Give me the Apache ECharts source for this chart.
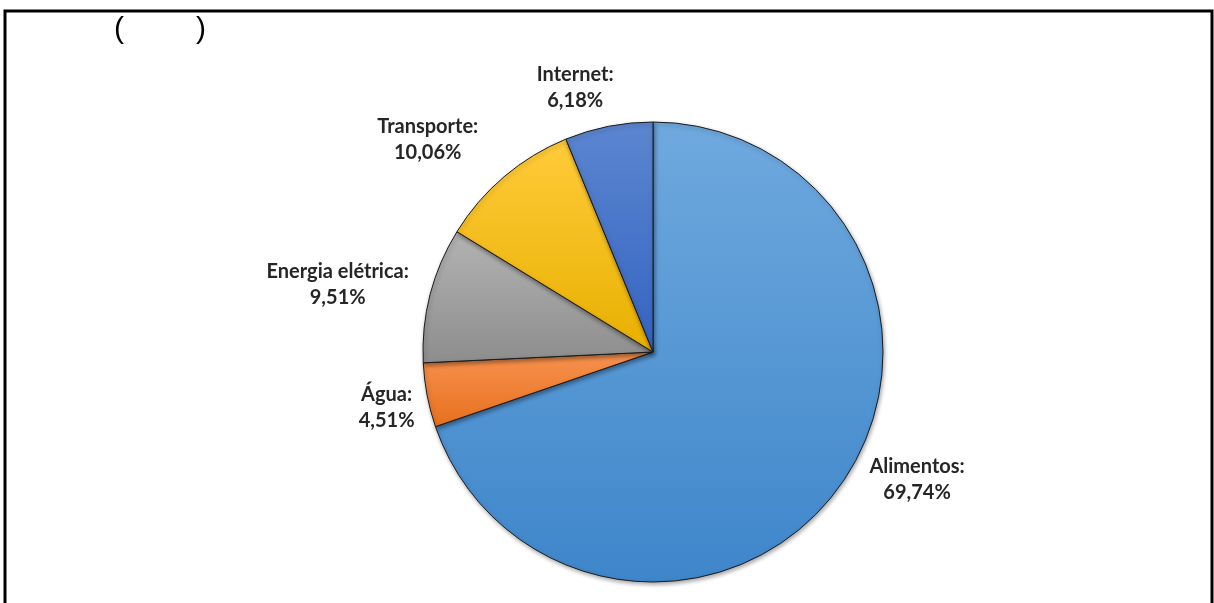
<html>
<head>
    <meta charset="utf-8">
    <title>ECharts</title>
    <script src="https://cdn.jsdelivr.net/npm/echarts@6/dist/echarts.min.js"></script>
    <style>
        html, body { margin: 0; padding: 0; background: #fff; }
    </style>
</head>
<body>
<div id="main" style="width: 1214px;height:603px;"></div>
<script type="text/javascript">
    // categories and values (percent), clockwise from 12 o'clock
    var categorias = ['Alimentos', 'Água', 'Energia elétrica', 'Transporte', 'Internet'];
    var valores = [69.74, 4.51, 9.51, 10.06, 6.18];
    var rotulos = ['69,74%', '4,51%', '9,51%', '10,06%', '6,18%'];

    // top / bottom colour of each slice gradient
    var coresTopo = ['#6fa9de', '#f7924f', '#b3b3b3', '#ffcb3a', '#5c86d0'];
    var coresBase = ['#3e86ca', '#e8701f', '#8d8d8d', '#e8b000', '#3464c2'];

    // small nudges so the labels sit where the original (Excel) put them
    var ajusteX = [20, 7, -4, -32, -24];
    var ajusteY = [-47, 3, 13, 15, 9];

    var myChart = echarts.init(document.getElementById('main'));

    var dados = [];
    for (var i = 0; i < categorias.length; i++) {
        dados.push({
            name: categorias[i],
            value: valores[i],
            itemStyle: {
                color: new echarts.graphic.LinearGradient(0, 0, 0, 1, [
                    {offset: 0, color: coresTopo[i]},
                    {offset: 1, color: coresBase[i]}
                ])
            }
        });
    }

    var cx = 653, cy = 352, raio = 230;

    var option = {
        animation: false,
        graphic: [
            {
                type: 'rect',
                shape: {x: 5, y: 11, width: 1207, height: 640},
                style: {fill: 'none', stroke: '#000', lineWidth: 3}
            },
            {
                type: 'text', left: 114, top: 15,
                style: {text: '(', font: '30px "Liberation Sans"', fill: '#000'}
            },
            {
                type: 'text', left: 196, top: 15,
                style: {text: ')', font: '30px "Liberation Sans"', fill: '#000'}
            }
        ],
        series: [{
            type: 'pie',
            center: [cx, cy],
            radius: raio,
            startAngle: 90,
            clockwise: true,
            avoidLabelOverlap: false,
            itemStyle: {
                borderColor: '#1a1a1a',
                borderWidth: 1,
                shadowColor: 'rgba(0,0,0,0.35)',
                shadowBlur: 4,
                shadowOffsetX: 1,
                shadowOffsetY: 2
            },
            label: {
                position: 'outside',
                formatter: function (p) {
                    return p.name + ':\n' + rotulos[p.dataIndex];
                },
                fontFamily: 'Lato',
                fontWeight: 'bold',
                fontSize: 20,
                lineHeight: 26,
                color: '#262626',
                align: 'center'
            },
            labelLine: {show: false, length: 10, length2: 0},
            labelLayout: function (p) {
                // place each label box just outside the pie along its mid-angle
                var pt = p.labelLinePoints ? p.labelLinePoints[0] : null;
                if (!pt) return {};
                var ux = (pt[0] - cx), uy = (pt[1] - cy);
                var len = Math.sqrt(ux * ux + uy * uy) || 1;
                ux /= len; uy /= len;
                var w = p.labelRect.width, h = p.labelRect.height;
                var d = raio + 16 + (w / 2) * Math.abs(ux) + (h / 2) * Math.abs(uy);
                return {
                    x: cx + ux * d + ajusteX[p.dataIndex],
                    y: cy + uy * d + ajusteY[p.dataIndex],
                    align: 'center',
                    verticalAlign: 'middle'
                };
            },
            emphasis: {disabled: true},
            data: dados
        }]
    };

    myChart.setOption(option);
</script>
</body>
</html>
